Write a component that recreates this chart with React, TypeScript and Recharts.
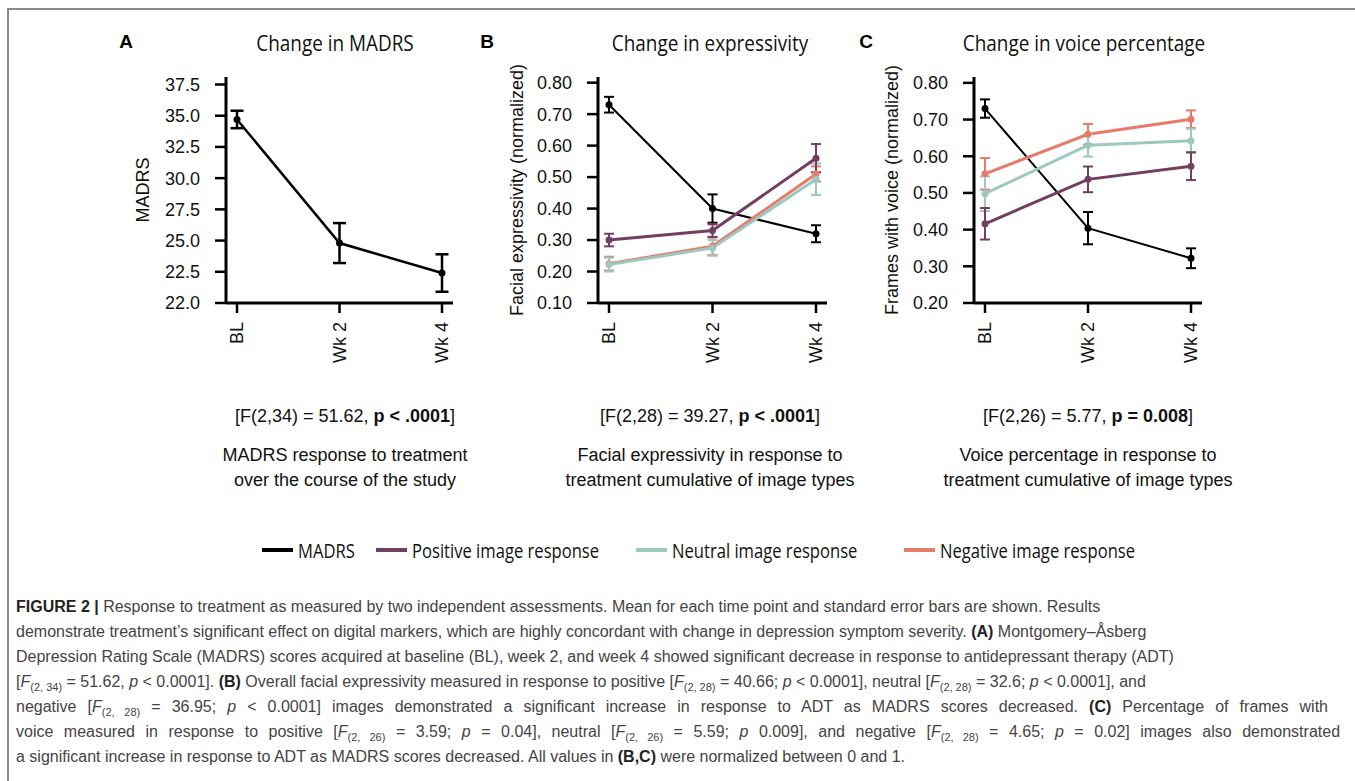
import React from "react";
import { LineChart, Line, XAxis, YAxis, ErrorBar } from "recharts";

const timePoints = ["BL", "Wk 2", "Wk 4"];

const seriesNames = ["MADRS", "Positive image response", "Neutral image response", "Negative image response"];
const seriesColors = ["#000000", "#723f62", "#9cc8c0", "#e67b69"];

// panel A - MADRS score
const madrsScore = [34.7, 24.8, 22.4];
const madrsScoreSe = [0.7, 1.6, 1.5];
const madrsTicks = [20, 22.5, 25, 27.5, 30, 32.5, 35, 37.5];
const madrsTickLabels = ["22.0", "22.5", "25.0", "27.5", "30.0", "32.5", "35.0", "37.5"];

// panel B - facial expressivity (normalized)
const exprMadrs = [0.73, 0.4, 0.32];
const exprMadrsSe = [0.025, 0.045, 0.027];
const exprPositive = [0.3, 0.33, 0.56];
const exprPositiveSe = [0.02, 0.02, 0.045];
const exprNeutral = [0.222, 0.275, 0.493];
const exprNeutralSe = [0.022, 0.025, 0.05];
const exprNegative = [0.225, 0.28, 0.51];
const exprNegativeSe = [0.022, 0.028, 0.024];
const exprTicks = [0.1, 0.2, 0.3, 0.4, 0.5, 0.6, 0.7, 0.8];

// panel C - frames with voice (normalized)
const voiceMadrs = [0.73, 0.404, 0.322];
const voiceMadrsSe = [0.025, 0.044, 0.027];
const voicePositive = [0.416, 0.537, 0.573];
const voicePositiveSe = [0.043, 0.035, 0.038];
const voiceNeutral = [0.498, 0.63, 0.642];
const voiceNeutralSe = [0.047, 0.031, 0.033];
const voiceNegative = [0.552, 0.66, 0.701];
const voiceNegativeSe = [0.043, 0.028, 0.024];
const voiceTicks = [0.2, 0.3, 0.4, 0.5, 0.6, 0.7, 0.8];

const SANS = '"Liberation Sans", Arial, Helvetica, sans-serif';
const TITLE = '"Open Sans", "Noto Sans", sans-serif';

type Series = { key: string; values: number[]; se: number[]; color: string; width: number; errWidth: number };

const RotatedTick = (props: any) => {
  const { x, y, payload } = props;
  return (
    <text
      x={x}
      y={y}
      transform={`rotate(-90, ${x}, ${y})`}
      textAnchor="end"
      dy="0.36em"
      fill="#111"
      fontSize={18}
      fontFamily={SANS}
    >
      {payload.value}
    </text>
  );
};

interface PanelProps {
  left: number;
  yAxisWidth: number;
  rightMargin: number;
  domain: [number, number];
  ticks: number[];
  tickLabels: string[];
  capHalf: number;
  series: Series[];
}

const Panel = ({ left, yAxisWidth, rightMargin, domain, ticks, tickLabels, capHalf, series }: PanelProps) => {
  const data = timePoints.map((t, i) => {
    const row: { [k: string]: string | number } = { time: t };
    series.forEach((s) => {
      row[s.key] = s.values[i];
      row[s.key + "Se"] = s.se[i];
    });
    return row;
  });

  return (
    <div style={{ position: "absolute", left, top: 40 }}>
      <LineChart width={380} height={330} data={data} margin={{ top: 37, right: rightMargin, bottom: 7, left: 0 }}>
        <XAxis
          dataKey="time"
          padding={{ left: 11, right: 11 }}
          height={60}
          interval={0}
          tickSize={10}
          tickMargin={9}
          tick={(p: any) => <RotatedTick {...p} />}
          axisLine={{ stroke: "#000", strokeWidth: 3 }}
          tickLine={{ stroke: "#000", strokeWidth: 2.5 }}
        />
        <YAxis
          type="number"
          width={yAxisWidth}
          domain={domain}
          ticks={ticks}
          allowDataOverflow
          interval={0}
          tickSize={11}
          tickMargin={15}
          tickFormatter={(v: number) => tickLabels[ticks.indexOf(v)]}
          tick={{ fill: "#111", fontSize: 18, fontFamily: SANS }}
          axisLine={{ stroke: "#000", strokeWidth: 3 }}
          tickLine={{ stroke: "#000", strokeWidth: 2.5 }}
        />
        {series.map((s) => (
          <Line
            key={s.key}
            dataKey={s.key}
            type="linear"
            stroke={s.color}
            strokeWidth={s.width}
            dot={{ r: 3.5, fill: s.color, stroke: s.color, strokeWidth: 0 }}
            activeDot={false}
            isAnimationActive={false}
          >
            <ErrorBar
              dataKey={s.key + "Se"}
              direction="y"
              width={capHalf}
              stroke={s.color}
              strokeWidth={s.errWidth}
              isAnimationActive={false}
            />
          </Line>
        ))}
      </LineChart>
    </div>
  );
};

const seriesB: Series[] = [
  { key: "madrs", values: exprMadrs, se: exprMadrsSe, color: seriesColors[0], width: 2, errWidth: 2 },
  { key: "neg", values: exprNegative, se: exprNegativeSe, color: seriesColors[3], width: 3, errWidth: 2 },
  { key: "neu", values: exprNeutral, se: exprNeutralSe, color: seriesColors[2], width: 3, errWidth: 2 },
  { key: "pos", values: exprPositive, se: exprPositiveSe, color: seriesColors[1], width: 3, errWidth: 2 },
];

const seriesC: Series[] = [
  { key: "madrs", values: voiceMadrs, se: voiceMadrsSe, color: seriesColors[0], width: 2, errWidth: 2 },
  { key: "neg", values: voiceNegative, se: voiceNegativeSe, color: seriesColors[3], width: 3, errWidth: 2 },
  { key: "neu", values: voiceNeutral, se: voiceNeutralSe, color: seriesColors[2], width: 3, errWidth: 2 },
  { key: "pos", values: voicePositive, se: voicePositiveSe, color: seriesColors[1], width: 3, errWidth: 2 },
];

const seriesA: Series[] = [
  { key: "madrs", values: madrsScore, se: madrsScoreSe, color: seriesColors[0], width: 2.5, errWidth: 2.5 },
];

const abs = (x: number, y: number, extra: React.CSSProperties = {}): React.CSSProperties => ({
  position: "absolute",
  left: x,
  top: y,
  whiteSpace: "nowrap",
  ...extra,
});

const Centered = ({ cx, cy, children, style }: { cx: number; cy: number; children: React.ReactNode; style?: React.CSSProperties }) => (
  <div style={abs(cx, cy, { transform: "translate(-50%, -50%)", ...style })}>{children}</div>
);

const Title = ({ cx, text }: { cx: number; text: string }) => (
  <Centered cx={cx} cy={42} style={{ fontFamily: TITLE, fontSize: 22, color: "#111" }}>
    <span style={{ display: "inline-block", transform: "scaleX(0.86)" }}>{text}</span>
  </Centered>
);

const YLabel = ({ cx, text }: { cx: number; text: string }) => (
  <Centered cx={cx} cy={190} style={{ fontSize: 18, color: "#111", transform: "translate(-50%, -50%) rotate(-90deg)" }}>
    {text}
  </Centered>
);

const Stat = ({ cx, lead, bold, notes }: { cx: number; lead: string; bold: string; notes: string[] }) => (
  <>
    <Centered cx={cx} cy={416} style={{ fontSize: 18, color: "#111" }}>
      [{lead}, <b>{bold}</b>]
    </Centered>
    {notes.map((n, i) => (
      <Centered key={n} cx={cx} cy={455 + i * 25} style={{ fontSize: 18, color: "#111" }}>
        {n}
      </Centered>
    ))}
  </>
);

const legendSwatchX = [262, 376, 636, 904];

const Fs = ({ df }: { df: string }) => (
  <>
    <i>F</i>
    <sub style={{ fontSize: 11, lineHeight: 0 }}>({df})</sub>
  </>
);

const B = ({ children }: { children: React.ReactNode }) => <b style={{ color: "#222" }}>{children}</b>;

// right edge of the caption lines that run wider in the figure (0 = natural width)
const captionLineEnds = [0, 0, 0, 0, 1328, 1340, 0];

const captionLines: React.ReactNode[] = [
  <>
    <B>FIGURE 2 |</B> Response to treatment as measured by two independent assessments. Mean for each time point and standard error bars are shown. Results
  </>,
  <>
    demonstrate treatment’s significant effect on digital markers, which are highly concordant with change in depression symptom severity. <B>(A)</B> Montgomery–Åsberg
  </>,
  <>
    Depression Rating Scale (MADRS) scores acquired at baseline (BL), week 2, and week 4 showed significant decrease in response to antidepressant therapy (ADT)
  </>,
  <>
    [<Fs df="2, 34" /> = 51.62, <i>p</i> &lt; 0.0001]. <B>(B)</B> Overall facial expressivity measured in response to positive [<Fs df="2, 28" /> = 40.66; <i>p</i> &lt; 0.0001], neutral [<Fs df="2, 28" /> = 32.6; <i>p</i> &lt; 0.0001], and
  </>,
  <>
    negative [<Fs df="2, 28" /> = 36.95; <i>p</i> &lt; 0.0001] images demonstrated a significant increase in response to ADT as MADRS scores decreased. <B>(C)</B> Percentage of frames with
  </>,
  <>
    voice measured in response to positive [<Fs df="2, 26" /> = 3.59; <i>p</i> = 0.04], neutral [<Fs df="2, 26" /> = 5.59; <i>p</i> 0.009], and negative [<Fs df="2, 28" /> = 4.65; <i>p</i> = 0.02] images also demonstrated
  </>,
  <>
    a significant increase in response to ADT as MADRS scores decreased. All values in <B>(B,C)</B> were normalized between 0 and 1.
  </>,
];

const CAPTION_LEFT = 16;

export default function App() {
  return (
    <div style={{ position: "absolute", left: 0, top: 0, width: 1355, height: 781, background: "#fff", overflow: "hidden", fontFamily: SANS }}>
      <div style={{ position: "absolute", left: 7, top: 8, width: 1400, height: 800, borderLeft: "2px solid #8a8a8a", borderTop: "2px solid #8a8a8a" }} />

      <Panel left={100} yAxisWidth={126} rightMargin={27} domain={[20, 38.1]} ticks={madrsTicks} tickLabels={madrsTickLabels} capHalf={6.5} series={seriesA} />
      <Panel left={470} yAxisWidth={128} rightMargin={23} domain={[0.1, 0.818]} ticks={exprTicks} tickLabels={exprTicks.map((t) => t.toFixed(2))} capHalf={5} series={seriesB} />
      <Panel left={850} yAxisWidth={124} rightMargin={28} domain={[0.2, 0.816]} ticks={voiceTicks} tickLabels={voiceTicks.map((t) => t.toFixed(2))} capHalf={5} series={seriesC} />

      <Centered cx={126} cy={42} style={{ fontSize: 19, fontWeight: "bold" }}>A</Centered>
      <Centered cx={487} cy={42} style={{ fontSize: 19, fontWeight: "bold" }}>B</Centered>
      <Centered cx={866} cy={42} style={{ fontSize: 19, fontWeight: "bold" }}>C</Centered>
      <Title cx={335} text="Change in MADRS" />
      <Title cx={710} text="Change in expressivity" />
      <Title cx={1084} text="Change in voice percentage" />

      <YLabel cx={143} text="MADRS" />
      <YLabel cx={517} text="Facial expressivity (normalized)" />
      <YLabel cx={892} text="Frames with voice (normalized)" />

      <Stat cx={345} lead="F(2,34) = 51.62" bold="p < .0001" notes={["MADRS response to treatment", "over the course of the study"]} />
      <Stat cx={710} lead="F(2,28) = 39.27" bold="p < .0001" notes={["Facial expressivity in response to", "treatment cumulative of image types"]} />
      <Stat cx={1088} lead="F(2,26) = 5.77" bold="p = 0.008" notes={["Voice percentage in response to", "treatment cumulative of image types"]} />

      {seriesNames.map((name, i) => (
        <div key={name} style={abs(legendSwatchX[i], 538, { display: "flex", alignItems: "center", height: 24 })}>
          <span style={{ display: "inline-block", width: 31, height: 4, background: seriesColors[i], marginRight: 5 }} />
          <span style={{ fontFamily: TITLE, fontSize: 20, color: "#111", display: "inline-block", transform: "scaleX(0.83)", transformOrigin: "left center" }}>
            {name}
          </span>
        </div>
      ))}

      <div style={abs(CAPTION_LEFT, 594, { fontSize: 16, color: "#444" })}>
        {captionLines.map((line, i) => {
          const end = captionLineEnds[i];
          const justified: React.CSSProperties = end
            ? { width: end - CAPTION_LEFT, textAlign: "justify", textAlignLast: "justify" }
            : {};
          return (
            <div key={i} style={{ height: 25, lineHeight: "25px", ...justified }}>
              {line}
            </div>
          );
        })}
      </div>
    </div>
  );
}
